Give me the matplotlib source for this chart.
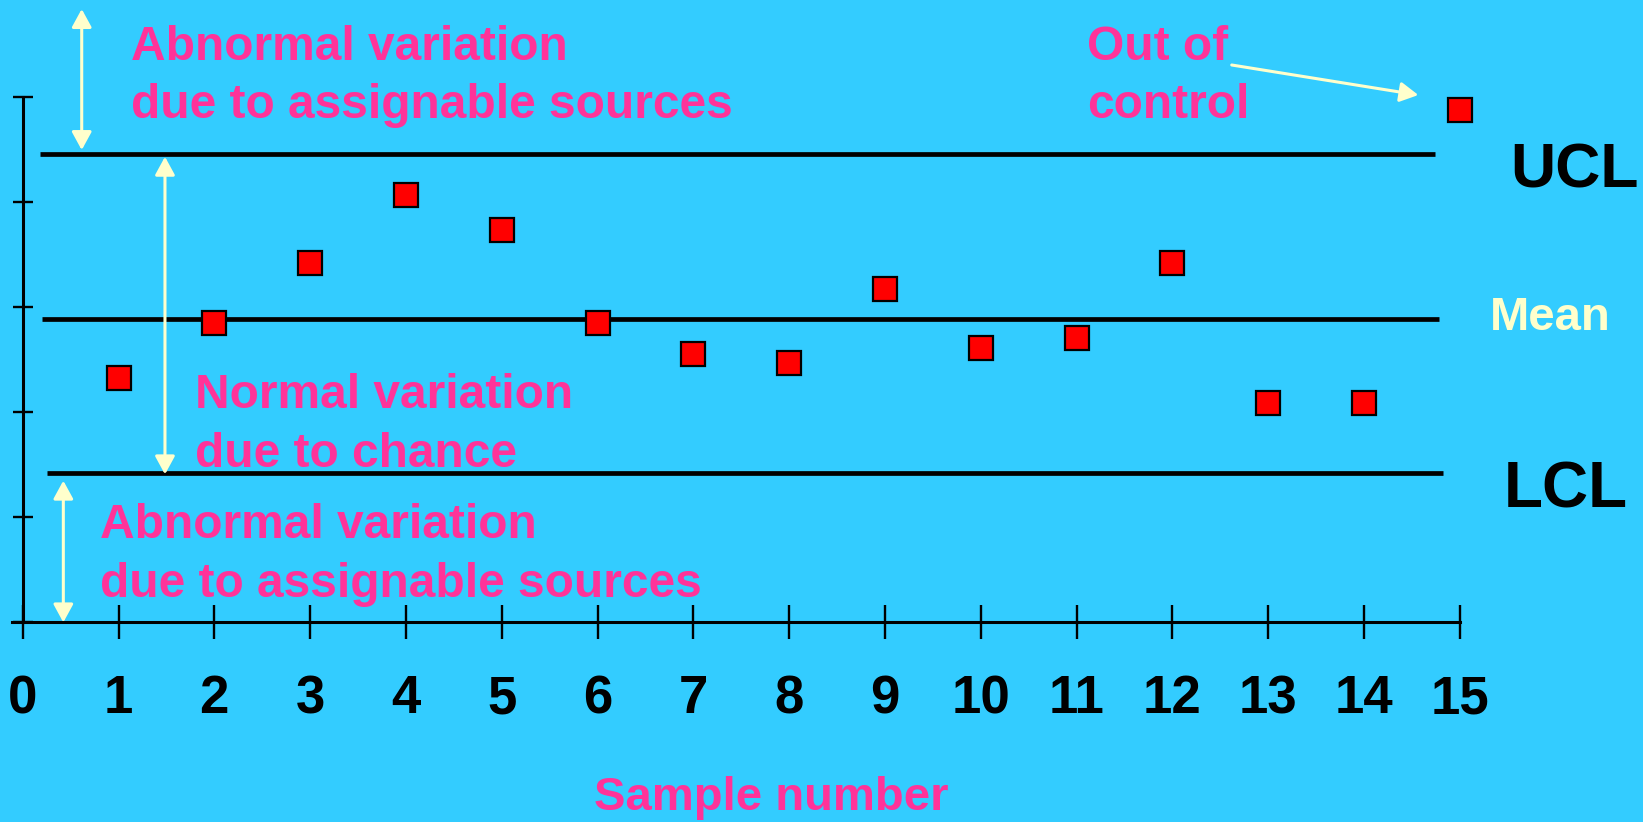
import matplotlib
matplotlib.use("Agg")
import matplotlib.pyplot as plt

# Control chart data
samples = list(range(1, 16))
values = [2.33, 2.85, 3.42, 4.07, 3.74, 2.85, 2.56, 2.47, 3.18, 2.61, 2.71, 3.42, 2.09, 2.09, 4.88]
ucl = 4.46
center = 2.894
lcl = 1.426
xtick_values = list(range(0, 16))
xtick_labels = [str(v) for v in xtick_values]
ytick_values = [0, 1, 2, 3, 4, 5]

BG = "#33CCFF"
PINK = "#FF3399"
CREAM = "#FFFFCC"
plt.rcParams["font.family"] = ["Liberation Sans", "DejaVu Sans"]
plt.rcParams["font.weight"] = "bold"

fig = plt.figure(figsize=(16.43, 8.22), dpi=100, facecolor=BG)
ax = fig.add_axes([0, 0, 1, 1], facecolor=BG)
ax.set_xlim(-0.237, 16.913)
ax.set_ylim(-1.901, 5.928)

# axes drawn through the origin
for side in ("top", "right"):
    ax.spines[side].set_visible(False)
ax.spines["left"].set_position(("data", 0))
ax.spines["bottom"].set_position(("data", 0))
ax.spines["left"].set_bounds(0, 5)
ax.spines["bottom"].set_bounds(-0.115, 15)
for side in ("left", "bottom"):
    ax.spines[side].set_linewidth(2.2)
    ax.spines[side].set_color("black")

ax.set_xticks(xtick_values)
ax.set_xticklabels(xtick_labels, fontsize=38, fontweight="bold")
ax.set_yticks(ytick_values)
ax.set_yticklabels([])
ax.tick_params(axis="x", direction="inout", length=25, width=1.7, pad=25)
ax.tick_params(axis="y", direction="inout", length=15, width=1.7)

# control limits and centre line
ax.plot([0.18, 14.74], [ucl, ucl], color="black", lw=3.4, solid_capstyle="butt")
ax.plot([0.20, 14.78], [center, center], color="black", lw=3.4, solid_capstyle="butt")
ax.plot([0.25, 14.83], [lcl, lcl], color="black", lw=3.4, solid_capstyle="butt")

# sample points
ax.plot(samples, values, linestyle="none", marker="s", markersize=17.5,
        markerfacecolor="#FF0000", markeredgecolor="black", markeredgewidth=1.6,
        zorder=5)

# double-headed arrows marking the zones
arrow_kw = dict(arrowstyle="<|-|>,head_length=0.55,head_width=0.3",
                color=CREAM, lw=2.2, shrinkA=0, shrinkB=0, mutation_scale=20)
ax.annotate("", xy=(0.616, 5.842), xytext=(0.616, 4.499), arrowprops=arrow_kw)
ax.annotate("", xy=(1.485, 4.435), xytext=(1.485, 1.41), arrowprops=arrow_kw)
ax.annotate("", xy=(0.424, 1.35), xytext=(0.424, 0.0), arrowprops=arrow_kw)

# pointer to the out-of-control sample
ax.annotate("", xy=(14.568, 5.023), xytext=(12.62, 5.309),
            arrowprops=dict(arrowstyle="-|>,head_length=0.55,head_width=0.3",
                            color=CREAM, lw=2.2, shrinkA=0, shrinkB=0,
                            mutation_scale=20))

# zone captions (anchored on the baseline of their last line)
txt = dict(color=PINK, fontsize=34.5, fontweight="bold", ha="left", va="baseline",
           linespacing=1.38)
ax.text(1.127, 4.804, "Abnormal variation\ndue to assignable sources", **txt)
ax.text(1.799, 1.483, "Normal variation\ndue to chance", **txt)
ax.text(0.807, 0.245, "Abnormal variation\ndue to assignable sources", **txt)
ax.text(11.113, 4.801, "Out of\ncontrol", **txt)
ax.text(7.811, -1.787, "Sample number", color=PINK, fontsize=34,
        fontweight="bold", ha="center", va="baseline")

ax.text(15.532, 4.14, "UCL", color="black", fontsize=45, fontweight="bold",
        ha="left", va="baseline")
ax.text(15.316, 2.785, "Mean", color=CREAM, fontsize=34, fontweight="bold",
        ha="left", va="baseline")
ax.text(15.455, 1.09, "LCL", color="black", fontsize=46, fontweight="bold",
        ha="left", va="baseline")

fig.savefig("out.png", dpi=100, facecolor=BG)
